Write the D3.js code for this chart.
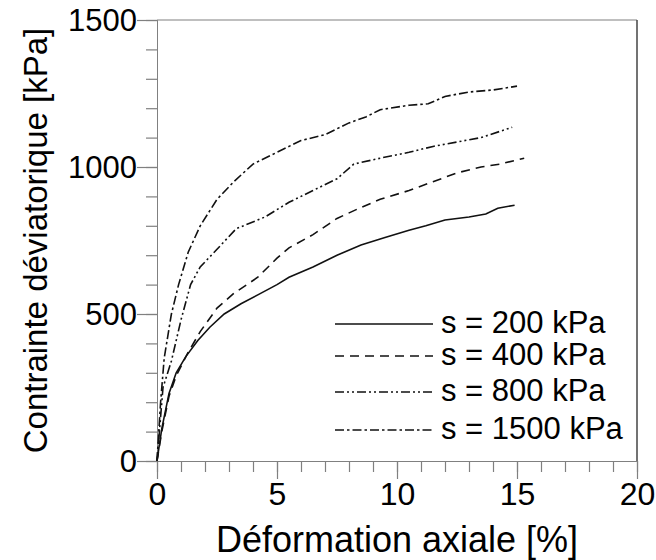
<!DOCTYPE html>
<html><head><meta charset="utf-8">
<script src="https://cdn.jsdelivr.net/npm/d3@7"></script>
<style>body{margin:0;background:#fff}</style>
</head><body><svg id="c" width="656" height="560"></svg>
<script>
const seriesNames = ["s = 200 kPa","s = 400 kPa","s = 800 kPa","s = 1500 kPa"];
const s200 = [[0,0],[0.2,110],[0.5,230],[0.8,300],[1.2,355],[1.7,410],[2.2,455],[2.8,500],[3.5,535],[4.2,565],[5,600],[5.5,625],[6.5,660],[7.5,700],[8.5,735],[9.5,760],[10.5,785],[11.2,800],[12,820],[13,830],[13.7,840],[14.2,860],[14.9,870]];
const s400 = [[0,0],[0.2,100],[0.5,220],[0.8,290],[1.3,370],[1.8,440],[2.5,520],[3.2,570],[4.2,625],[5,690],[5.5,725],[6.5,770],[7.5,825],[8.3,855],[9.3,890],[10.5,920],[11.5,950],[12.5,980],[13.5,1000],[14.3,1010],[15.3,1030]];
const s800 = [[0,0],[0.25,250],[0.6,340],[1,480],[1.4,600],[1.8,660],[2.5,720],[3.3,790],[4.5,830],[5.5,880],[6.5,920],[7.5,960],[8.2,1010],[9.3,1030],[10.5,1050],[11.5,1070],[12.5,1085],[13.5,1100],[14.8,1135]];
const s1500 = [[0,0],[0.15,200],[0.3,350],[0.6,500],[0.9,600],[1.3,710],[1.8,800],[2.5,890],[3.2,950],[4,1010],[5,1050],[6,1090],[7,1110],[8,1150],[8.7,1170],[9.3,1195],[10.5,1210],[11.3,1215],[12,1240],[13,1255],[14,1262],[15,1275]];
const xTicks = [0,5,10,15,20];
const yTicks = [0,500,1000,1500];
const xLabel = "Déformation axiale [%]";
const yLabel = "Contrainte déviatorique [kPa]";

const svg = d3.select("#c");
const L=157,R=637,T=20,B=461;
const x = d3.scaleLinear().domain([0,20]).range([L,R]);
const y = d3.scaleLinear().domain([0,1500]).range([B,T]);
const font = "'Liberation Sans', Arial, sans-serif";
const axCol = "#808080";

const gx = svg.append("g").attr("transform",`translate(0,${B})`);
gx.call(d3.axisBottom(x).tickValues(d3.range(0,21,1)).tickSize(11).tickFormat(""));
gx.append("g").call(d3.axisBottom(x).tickValues(xTicks).tickSize(18).tickFormat(d3.format("d")));
gx.selectAll("path.domain").attr("stroke",axCol);
gx.selectAll("line").attr("stroke",axCol).attr("stroke-width",1.2);
gx.selectAll("text").attr("font-family",font).attr("font-size",32).attr("fill","#000").attr("dy","0.95em").attr("y",14);

const gy = svg.append("g").attr("transform",`translate(${L},0)`);
gy.call(d3.axisLeft(y).tickValues(d3.range(0,1501,100)).tickSize(11).tickFormat(""));
gy.append("g").call(d3.axisLeft(y).tickValues(yTicks).tickSize(20).tickFormat(d3.format("d")));
gy.selectAll("path.domain").attr("stroke",axCol);
gy.selectAll("line").attr("stroke",axCol).attr("stroke-width",1.2);
gy.selectAll("text").attr("font-family",font).attr("font-size",31).attr("fill","#000").attr("x",-20).attr("dy","0.35em");

svg.append("line").attr("x1",L).attr("x2",R).attr("y1",T).attr("y2",T).attr("stroke",axCol).attr("stroke-width",1.2);
svg.append("line").attr("x1",R).attr("x2",R).attr("y1",T).attr("y2",B).attr("stroke","#444").attr("stroke-width",1.5);

const data = [s200,s400,s800,s1500];
const dashes = [null,"9,6","9,3,2,3,2,3","9,3,2.5,3"];
const line = d3.line().x(d=>x(d[0])).y(d=>y(d[1]));
data.forEach((d,i)=>{
  svg.append("path").datum(d).attr("d",line).attr("fill","none").attr("stroke","#111")
    .attr("stroke-width",1.6).attr("stroke-dasharray",dashes[i]);
});

const legY = [322,354,390,428];
seriesNames.forEach((n,i)=>{
  svg.append("line").attr("x1",335).attr("x2",433).attr("y1",legY[i]+2).attr("y2",legY[i]+2)
    .attr("stroke","#111").attr("stroke-width",1.6).attr("stroke-dasharray",dashes[i]);
  svg.append("text").attr("x",441).attr("y",legY[i]).attr("dy","0.35em").attr("font-family",font)
    .attr("font-size",31).text(n);
});

svg.append("text").attr("x",(L+R)/2 + 0).attr("y",552).attr("text-anchor","middle").attr("font-family",font).attr("font-size",36).text(xLabel);
svg.append("text").attr("transform",`translate(47,${(T+B)/2}) rotate(-90)`).attr("text-anchor","middle").attr("font-family",font).attr("font-size",33).text(yLabel);
</script></body></html>
